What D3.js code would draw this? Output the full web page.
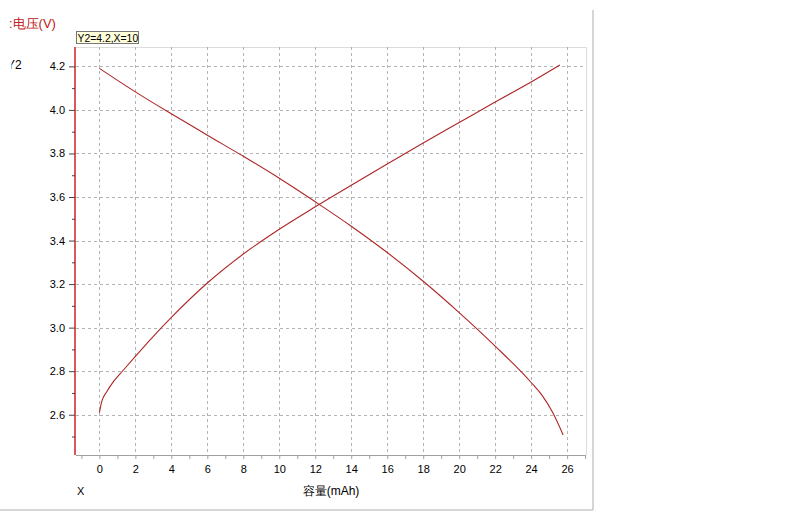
<!DOCTYPE html>
<html>
<head>
<meta charset="utf-8">
<script src="https://cdn.jsdelivr.net/npm/d3@7"></script>
<style>
    body { margin: 0; background: #fff; }
    svg { display: block; font-family: "Liberation Sans", Arial, sans-serif; }
</style>
</head>
<body>
<div id="chart"></div>
<script>
// capacity (mAh) / voltage (V)
const dischargeX = [0, 2, 4, 6, 8, 10, 12, 14, 16, 18, 20, 22, 24, 24.6, 25.2, 25.78];
const dischargeY = [4.191, 4.083, 3.982, 3.884, 3.787, 3.686, 3.578, 3.466, 3.345, 3.213, 3.069, 2.915, 2.748, 2.69, 2.61, 2.507];
const chargeX = [0, 0.13, 0.41, 0.78, 1.3, 2, 3, 4, 6, 8, 10, 12, 14, 16, 18, 20, 22, 24, 25.6];
const chargeY = [2.609, 2.66, 2.706, 2.752, 2.802, 2.868, 2.96, 3.047, 3.205, 3.338, 3.452, 3.555, 3.654, 3.752, 3.848, 3.942, 4.036, 4.128, 4.206];

const yTicks = [2.6, 2.8, 3.0, 3.2, 3.4, 3.6, 3.8, 4.0, 4.2];
const yMinorTicks = [2.5, 2.7, 2.9, 3.1, 3.3, 3.5, 3.7, 3.9, 4.1];
const xTicks = [0, 2, 4, 6, 8, 10, 12, 14, 16, 18, 20, 22, 24, 26];
const xMinorTicks = [-1, 1, 3, 5, 7, 9, 11, 13, 15, 17, 19, 21, 23, 25, 27];

const titleText = ":电压(V)";
const tipText = "Y2=4.2,X=10";
const yName = "Y2";
const xName = "X";
const xTitle = "容量(mAh)";

const width = 800;
const height = 520;
const lineColor = "#ae2626";

const svg = d3.select("#chart").append("svg")
    .attr("width", width)
    .attr("height", height);

// plot box
const plotLeft = 76, plotRight = 586, plotTop = 47, plotBottom = 455;

const x = d3.scaleLinear().domain([-1.3, 27.05]).range([plotLeft, plotRight]);
const y = d3.scaleLinear().domain([2.415, 4.289]).range([plotBottom, plotTop]);

//outer panel borders
svg.append("line").attr("x1", 593).attr("x2", 593).attr("y1", 10).attr("y2", 510)
    .attr("stroke", "#c8c8c8").attr("stroke-width", 1.5);
svg.append("line").attr("x1", 0).attr("x2", 593).attr("y1", 510).attr("y2", 510)
    .attr("stroke", "#c8c8c8").attr("stroke-width", 1.5);

//plot border top and right
svg.append("path")
    .attr("d", `M${plotLeft},${plotTop + 0.5}H${plotRight + 0.5}V${plotBottom}`)
    .attr("fill", "none")
    .attr("stroke", "#dcdcdc");

//grid lines
const grid = svg.append("g").attr("stroke", "#b4b4b4").attr("stroke-dasharray", "3,3");
grid.selectAll(".gy").data(yTicks).enter().append("line")
    .attr("x1", plotLeft).attr("x2", plotRight)
    .attr("y1", d => Math.round(y(d)) + 0.5).attr("y2", d => Math.round(y(d)) + 0.5);
grid.selectAll(".gx").data(xTicks).enter().append("line")
    .attr("y1", plotTop).attr("y2", plotBottom)
    .attr("x1", d => Math.round(x(d)) + 0.5).attr("x2", d => Math.round(x(d)) + 0.5);

//x axis
const xAxis = svg.append("g")
    .attr("transform", `translate(0,${plotBottom})`)
    .call(d3.axisBottom(x).tickValues(xTicks).tickSize(4).tickPadding(6).tickFormat(d3.format("d")));
xAxis.select(".domain").attr("stroke", "#a0a0a0").attr("d", `M${plotLeft},0.5H${plotRight}`);
xAxis.selectAll(".tick line").attr("stroke", "#a0a0a0");
xAxis.selectAll("text").attr("font-size", 11).attr("fill", "#000");

const xMinor = svg.append("g")
    .attr("transform", `translate(0,${plotBottom})`)
    .call(d3.axisBottom(x).tickValues(xMinorTicks).tickSize(4).tickFormat(""));
xMinor.select(".domain").remove();
xMinor.selectAll(".tick line").attr("stroke", "#a0a0a0");

//y axis
const yAxis = svg.append("g")
    .attr("transform", `translate(${plotLeft - 1},0)`)
    .call(d3.axisLeft(y).tickValues(yTicks).tickSize(6).tickPadding(4).tickFormat(d3.format(".1f")));
yAxis.select(".domain").attr("stroke", "#d03030").attr("stroke-width", 1.6).attr("d", `M0,${plotTop}V${plotBottom}`);
yAxis.selectAll(".tick line").attr("stroke", "#444");
yAxis.selectAll("text").attr("font-size", 11).attr("fill", "#000");

const yMinor = svg.append("g")
    .attr("transform", `translate(${plotLeft - 1},0)`)
    .call(d3.axisLeft(y).tickValues(yMinorTicks).tickSize(3).tickFormat(""));
yMinor.select(".domain").remove();
yMinor.selectAll(".tick line").attr("stroke", "#444");

//curves
const line = d3.line()
    .x(d => x(d[0]))
    .y(d => y(d[1]))
    .curve(d3.curveMonotoneX);

svg.append("path")
    .datum(d3.zip(dischargeX, dischargeY))
    .attr("d", line)
    .attr("fill", "none")
    .attr("stroke", lineColor)
    .attr("stroke-width", 1.1);

svg.append("path")
    .datum(d3.zip(chargeX, chargeY))
    .attr("d", line)
    .attr("fill", "none")
    .attr("stroke", lineColor)
    .attr("stroke-width", 1.1);

//title (left part is cut off)
svg.append("text")
    .attr("x", 9).attr("y", 28)
    .attr("font-size", 13)
    .attr("fill", "#c02020")
    .text(titleText);

//tooltip box
const tip = svg.append("g");
tip.append("rect")
    .attr("x", 76.5).attr("y", 31.5).attr("width", 62).attr("height", 12)
    .attr("fill", "#ffffdc").attr("stroke", "#777");
tip.append("text")
    .attr("x", 77.5).attr("y", 41.5)
    .attr("font-size", 10.4)
    .attr("fill", "#000")
    .text(tipText);

//y axis name, clipped on the left
svg.append("clipPath").attr("id", "nameClip")
    .append("rect").attr("x", 11.5).attr("y", 50).attr("width", 30).attr("height", 30);
svg.append("text")
    .attr("clip-path", "url(#nameClip)")
    .attr("x", 7).attr("y", 69)
    .attr("font-size", 12)
    .attr("fill", "#000")
    .text(yName);

//x axis names
svg.append("text")
    .attr("x", 77).attr("y", 495)
    .attr("font-size", 11)
    .attr("fill", "#000")
    .text(xName);

svg.append("text")
    .attr("x", 331).attr("y", 495)
    .attr("text-anchor", "middle")
    .attr("font-size", 12)
    .attr("fill", "#000")
    .text(xTitle);
</script>
</body>
</html>
